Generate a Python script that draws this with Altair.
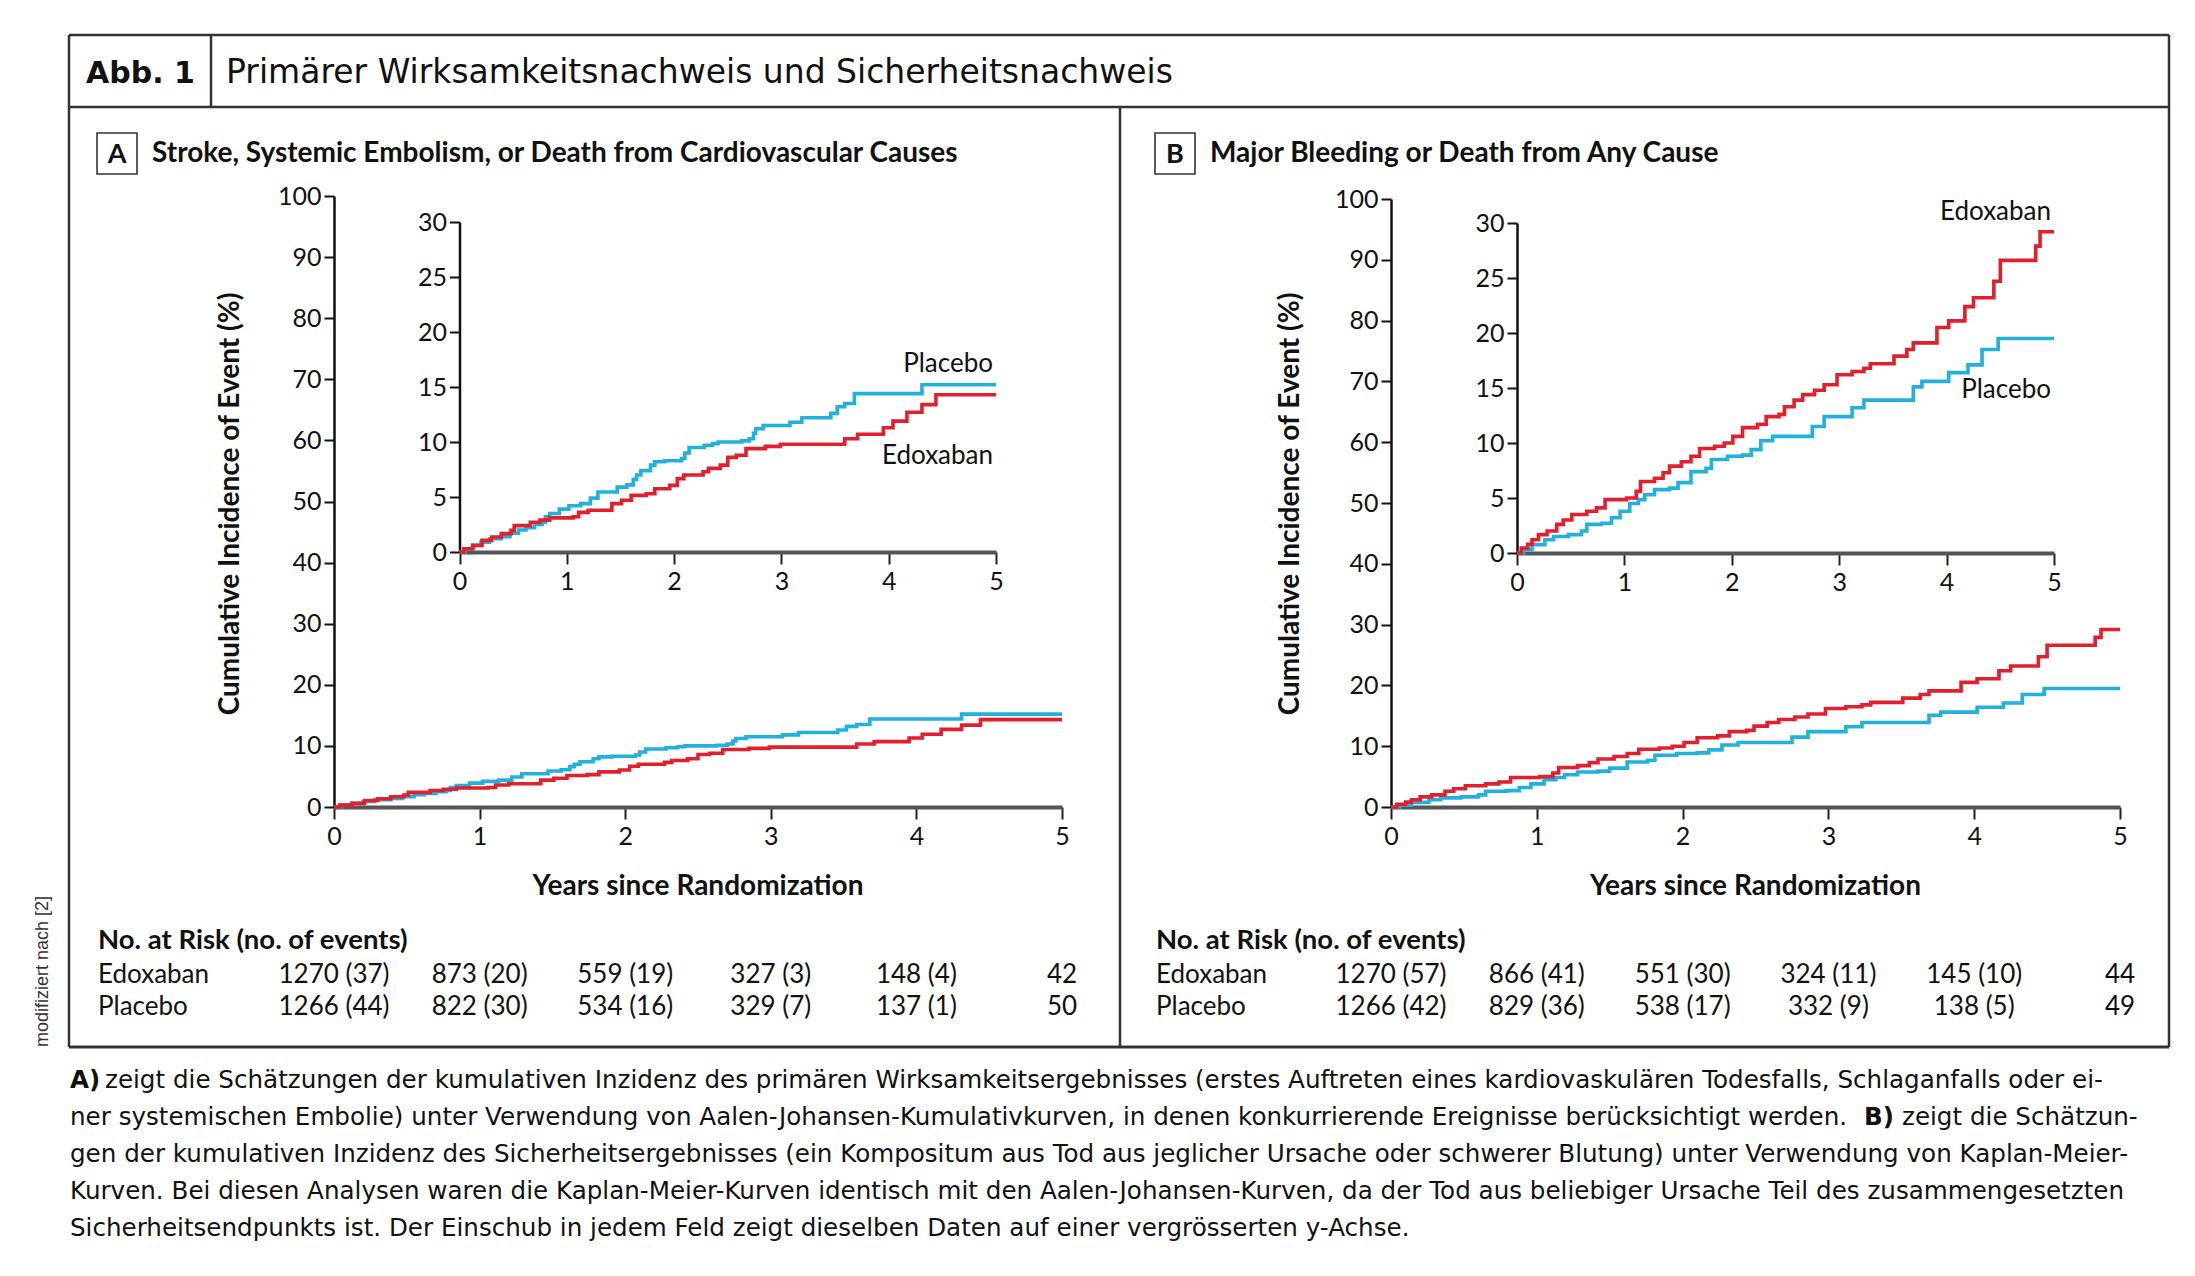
import altair as alt
import pandas as pd

RED = "#e11f2d"
BLUE = "#22b1dd"
YEARS = [0, 1, 2, 3, 4, 5]

# ---------- Panel A: stroke, systemic embolism, CV death ----------
a_pla_t = [0.0, 0.05, 0.12, 0.2, 0.28, 0.39, 0.47, 0.55, 0.62, 0.70, 0.77, 0.80, 0.84, 0.93,
           1.02, 1.13, 1.22, 1.29, 1.47, 1.56, 1.62, 1.65, 1.69, 1.78, 1.82, 1.91, 2.07, 2.10,
           2.14, 2.28, 2.36, 2.41, 2.63, 2.70, 2.74, 2.76, 2.83, 3.08, 3.19, 3.46, 3.52, 3.59,
           3.68, 4.31, 5.0]
a_pla_v = [0.0, 0.3, 0.6, 0.9, 1.2, 1.4, 1.7, 2.0, 2.2, 2.5, 2.7, 3.2, 3.5, 3.9,
           4.2, 4.4, 4.9, 5.45, 5.9, 6.1, 6.6, 7.0, 7.4, 7.9, 8.2, 8.3, 8.5, 9.0,
           9.5, 9.7, 9.85, 10.0, 10.1, 10.3, 10.8, 11.2, 11.5, 11.8, 12.2, 12.6, 13.2, 13.5,
           14.4, 15.2, 15.2]
a_edo_t = [0.0, 0.04, 0.125, 0.21, 0.30, 0.39, 0.48, 0.51, 0.66, 0.75, 0.84, 1.06, 1.11, 1.20,
           1.42, 1.51, 1.60, 1.74, 1.82, 1.96, 2.03, 2.09, 2.27, 2.32, 2.43, 2.50, 2.58, 2.67,
           2.85, 2.99, 3.59, 3.71, 3.95, 4.04, 4.17, 4.31, 4.44, 5.0]
a_edo_v = [0.0, 0.3, 0.6, 1.06, 1.36, 1.67, 1.97, 2.4, 2.7, 2.9, 3.1, 3.2, 3.6, 3.8,
           4.4, 4.7, 5.15, 5.3, 5.75, 6.06, 6.67, 7.0, 7.3, 7.6, 7.9, 8.6, 8.8, 9.4,
           9.6, 9.8, 10.3, 10.7, 11.3, 11.9, 12.7, 13.4, 14.3, 14.3]

# ---------- Panel B: major bleeding or death from any cause ----------
b_edo_t = [0.0, 0.04, 0.10, 0.14, 0.20, 0.28, 0.37, 0.43, 0.51, 0.65, 0.74, 0.82, 1.02, 1.11,
           1.15, 1.28, 1.36, 1.42, 1.53, 1.62, 1.70, 1.84, 1.93, 2.01, 2.10, 2.24, 2.32, 2.44,
           2.49, 2.58, 2.66, 2.77, 2.86, 2.98, 3.12, 3.23, 3.29, 3.51, 3.63, 3.69, 3.91, 4.02,
           4.17, 4.25, 4.44, 4.50, 4.83, 4.87, 5.0]
b_edo_v = [0.0, 0.45, 0.8, 1.2, 1.67, 2.0, 2.6, 3.0, 3.5, 3.8, 4.1, 4.85, 5.0, 5.6,
           6.5, 6.8, 7.3, 7.9, 8.3, 8.8, 9.5, 9.7, 10.0, 10.6, 11.4, 11.7, 12.4, 12.6,
           13.3, 13.9, 14.4, 14.8, 15.3, 16.2, 16.5, 16.8, 17.2, 17.9, 18.5, 19.1, 20.5, 21.1,
           22.4, 23.2, 24.7, 26.6, 27.9, 29.2, 29.2]
b_pla_t = [0.0, 0.06, 0.14, 0.26, 0.34, 0.48, 0.60, 0.65, 0.79, 0.88, 0.96, 1.05, 1.13, 1.19,
           1.28, 1.42, 1.50, 1.62, 1.76, 1.81, 1.96, 2.10, 2.18, 2.27, 2.38, 2.75, 2.86, 3.12,
           3.23, 3.69, 3.77, 4.02, 4.20, 4.33, 4.48, 5.0]
b_pla_v = [0.0, 0.3, 0.76, 1.2, 1.5, 1.67, 2.0, 2.6, 2.7, 3.2, 3.8, 4.5, 4.85, 5.3,
           5.76, 5.9, 6.4, 7.4, 7.7, 8.5, 8.8, 8.9, 9.4, 10.2, 10.6, 11.5, 12.4, 13.2,
           13.9, 15.1, 15.6, 16.4, 17.1, 18.5, 19.5, 19.5]

# ---------- Numbers at risk ----------
risk_a_edo = ["1270 (37)", "873 (20)", "559 (19)", "327 (3)", "148 (4)", "42"]
risk_a_pla = ["1266 (44)", "822 (30)", "534 (16)", "329 (7)", "137 (1)", "50"]
risk_b_edo = ["1270 (57)", "866 (41)", "551 (30)", "324 (11)", "145 (10)", "44"]
risk_b_pla = ["1266 (42)", "829 (36)", "538 (17)", "332 (9)", "138 (5)", "49"]

MAIN_TICKS = [0, 10, 20, 30, 40, 50, 60, 70, 80, 90, 100]
INSET_TICKS = [0, 5, 10, 15, 20, 25, 30]

caption = [
    "zeigt die Schätzungen der kumulativen Inzidenz des primären Wirksamkeitsergebnisses (erstes Auftreten eines kardiovaskulären Todesfalls, Schlaganfalls oder ei-",
    "ner systemischen Embolie) unter Verwendung von Aalen-Johansen-Kumulativkurven, in denen konkurrierende Ereignisse berücksichtigt werden.",
    "zeigt die Schätzun-",
    "gen der kumulativen Inzidenz des Sicherheitsergebnisses (ein Kompositum aus Tod aus jeglicher Ursache oder schwerer Blutung) unter Verwendung von Kaplan-Meier-",
    "Kurven. Bei diesen Analysen waren die Kaplan-Meier-Kurven identisch mit den Aalen-Johansen-Kurven, da der Tod aus beliebiger Ursache Teil des zusammengesetzten",
    "Sicherheitsendpunkts ist. Der Einschub in jedem Feld zeigt dieselben Daten auf einer vergrösserten y-Achse.",
]

# ---------- layout (canvas pixels) ----------
W, H = 2179, 1260
MA_X, MA_Y = [326, 1054], [799, 188]
IA_X, IA_Y = [451.5, 988], [544, 214]
MB_X, MB_Y = [1383, 2112], [799, 191]
IB_X, IB_Y = [1509, 2046], [545, 215]
PF = "Lato"
HF = "DejaVu Sans"


def T(s, x, y, size=25, weight="normal", font=PF, align="left", baseline="alphabetic",
      color="#111", angle=0):
    return alt.Chart(alt.Data(values=[{"t": s}])).mark_text(
        align=align, baseline=baseline, font=font, fontSize=size, fontWeight=weight,
        color=color, angle=angle).encode(x=alt.value(x), y=alt.value(y), text="t:N")


def R(x1, y1, x2, y2, w=2.5, color="#333"):
    return alt.Chart(alt.Data(values=[{}])).mark_rule(strokeWidth=w, color=color).encode(
        x=alt.value(x1), x2=alt.value(x2), y=alt.value(y1), y2=alt.value(y2))


def BOX(x1, y1, x2, y2):
    return alt.Chart(alt.Data(values=[{}])).mark_rect(
        fill="white", stroke="#333", strokeWidth=1.6).encode(
        x=alt.value(x1), x2=alt.value(x2), y=alt.value(y1), y2=alt.value(y2))


def xax(yr):
    return alt.Axis(orient="bottom", offset=yr[0] - H, values=YEARS, format="d", title=None,
                    grid=False, domainColor="#555", domainWidth=4, tickColor="#222",
                    tickWidth=2, tickSize=12, labelFont=PF, labelFontSize=25,
                    labelColor="#111", labelPadding=5, labelFlush=False, labelOverlap=False)


def yax(xr, vals):
    return alt.Axis(orient="left", offset=-xr[0], values=vals, format="d", title=None,
                    grid=False, domainColor="#111", domainWidth=2.5, tickColor="#111",
                    tickWidth=2, tickSize=10, labelFont=PF, labelFontSize=25,
                    labelColor="#111", labelPadding=3, labelFlush=False, labelOverlap=False)


def curve(t, v, color, xr, yr, ydom, axes=False, yvals=None):
    df = pd.DataFrame({"year": t, "pct": v})
    return alt.Chart(df).mark_line(interpolate="step-after", strokeWidth=3.6, color=color).encode(
        x=alt.X("year:Q", scale=alt.Scale(domain=[0, 5], range=xr, nice=False, zero=False),
                axis=xax(yr) if axes else None),
        y=alt.Y("pct:Q", scale=alt.Scale(domain=ydom, range=yr, nice=False, zero=False),
                axis=yax(xr, yvals) if axes else None))


def risk(labels, xr, y):
    df = pd.DataFrame({"year": YEARS, "lab": labels})
    return alt.Chart(df).mark_text(font=PF, fontSize=26, align="center", baseline="alphabetic",
                                   color="#111").encode(
        x=alt.X("year:Q", scale=alt.Scale(domain=[0, 5], range=xr, nice=False), axis=None),
        y=alt.value(y), text="lab:N")


layers = []
# frame
layers += [
    R(61, 27, 2161, 27), R(61, 1039, 2161, 1039, w=3), R(61, 27, 61, 1039), R(2161, 27, 2161, 1039),
    R(61, 99, 2161, 99), R(203, 27, 203, 99), R(1112, 99, 1112, 1039),
]
# header
layers += [
    T("Abb. 1", 78, 75, size=30, weight="bold", font=HF),
    T("Primärer Wirksamkeitsnachweis und Sicherheitsnachweis", 218, 75, size=33, font=HF),
]

# panels
for (lab, title, MX, MY, IX, IY, d_edo, d_pla, r_edo, r_pla, tx, ytx) in [
    ("A", "Stroke, Systemic Embolism, or Death from Cardiovascular Causes", MA_X, MA_Y, IA_X, IA_Y,
     (a_edo_t, a_edo_v), (a_pla_t, a_pla_v), risk_a_edo, risk_a_pla, 89, 223),
    ("B", "Major Bleeding or Death from Any Cause", MB_X, MB_Y, IB_X, IB_Y,
     (b_edo_t, b_edo_v), (b_pla_t, b_pla_v), risk_b_edo, risk_b_pla, 1147, 1283),
]:
    layers += [BOX(tx, 125, tx + 40, 166), T(lab, tx + 20, 155, size=27, weight="bold", align="center"),
               T(title, tx + 55, 154, size=28, weight="bold")]
    # main plot
    layers += [curve(*d_pla, BLUE, MX, MY, [0, 100], axes=True, yvals=MAIN_TICKS),
               curve(*d_edo, RED, MX, MY, [0, 100])]
    # inset
    layers += [curve(*d_pla, BLUE, IX, IY, [0, 30], axes=True, yvals=INSET_TICKS),
               curve(*d_edo, RED, IX, IY, [0, 30])]
    layers += [
        T("Years since Randomization", (MX[0] + MX[1]) / 2, 879, size=28, weight="bold",
          align="center", baseline="middle"),
        T("Cumulative Incidence of Event (%)", ytx, 496, size=28, weight="bold",
          align="center", baseline="middle", angle=270),
        T("No. at Risk (no. of events)", tx + 1, 941, size=27.5, weight="bold"),
        T("Edoxaban", tx + 1, 975, size=26), T("Placebo", tx + 1, 1007, size=26),
        risk(r_edo, MX, 975), risk(r_pla, MX, 1007),
    ]

# curve labels
layers += [
    T("Placebo", 985, 364, size=26, align="right"),
    T("Edoxaban", 985, 456, size=26, align="right"),
    T("Edoxaban", 2043, 212, size=26, align="right"),
    T("Placebo", 2043, 390, size=26, align="right"),
]

# side note
layers += [T("modifiziert nach [2]", 35, 1039, size=18, font="Liberation Sans", color="#333",
             angle=270, baseline="middle")]

# caption
CY = 1080
CS = 37
CF = 24.6
layers += [
    T("A)", 62, CY, size=CF, weight="bold", font=HF),
    T(caption[0], 97, CY, size=CF, font=HF),
    T(caption[1], 62, CY + CS, size=CF, font=HF),
    T("B)", 1856, CY + CS, size=CF, weight="bold", font=HF),
    T(caption[2], 1894, CY + CS, size=CF, font=HF),
    T(caption[3], 62, CY + 2 * CS, size=CF, font=HF),
    T(caption[4], 62, CY + 3 * CS, size=CF, font=HF),
    T(caption[5], 62, CY + 4 * CS, size=CF, font=HF),
]

chart = alt.layer(*layers).properties(
    width=W, height=H, padding=0, autosize="none", background="white"
).resolve_scale(x="independent", y="independent").configure_view(stroke=None)

chart.save("out.html", embed_options={"renderer": "svg", "actions": False})
